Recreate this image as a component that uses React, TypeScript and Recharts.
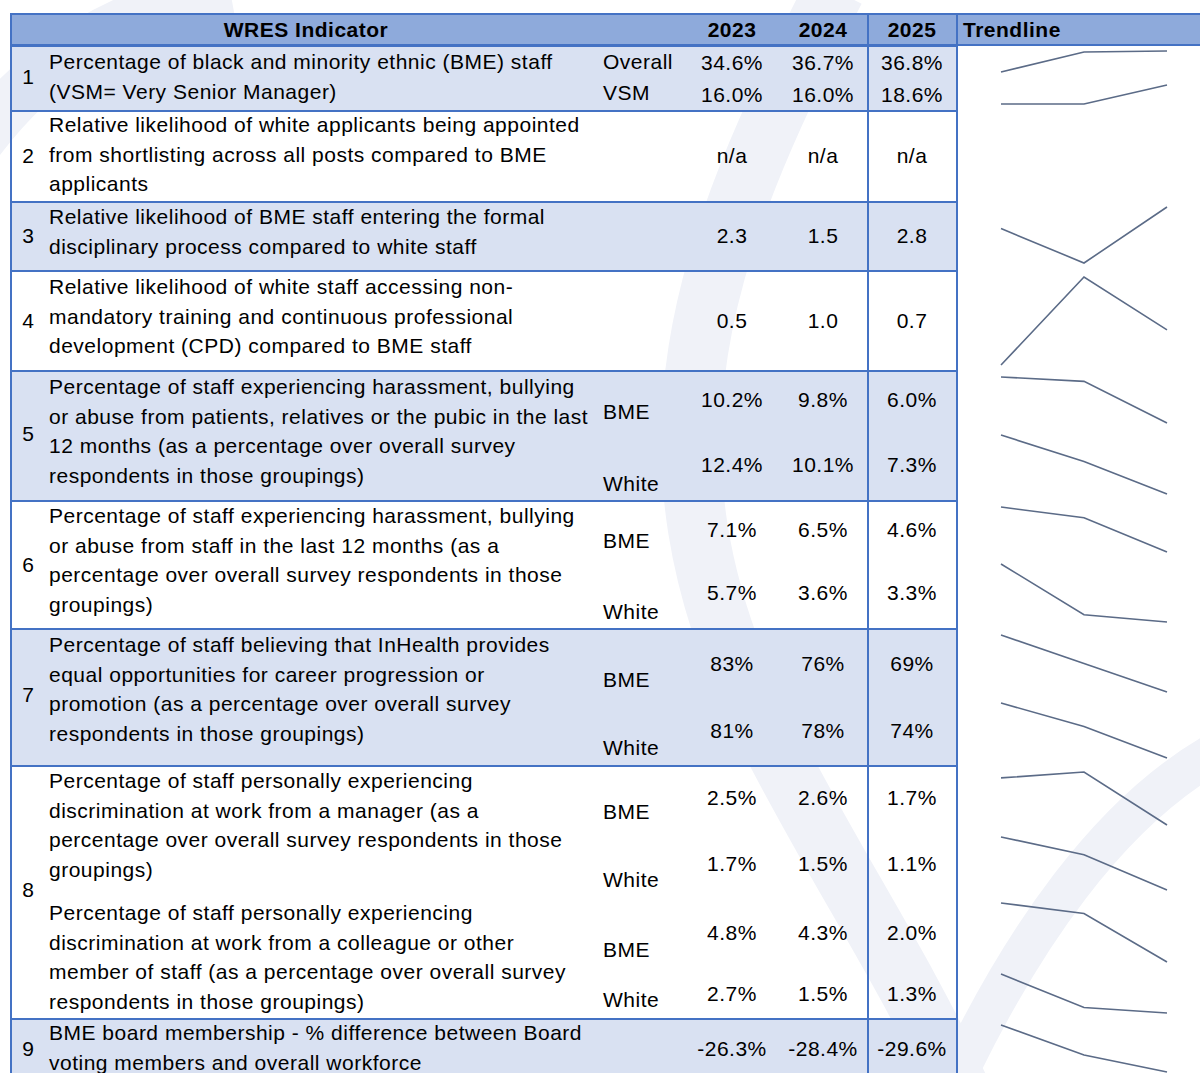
import React from 'react';
import { LineChart, Line, XAxis, YAxis } from 'recharts';

// ---- data ----
const years = ['2023', '2024', '2025'];

const r1Overall = [34.6, 36.7, 36.8];
const r1Vsm = [16.0, 16.0, 18.6];
const r2Values = ['n/a', 'n/a', 'n/a'];
const r3Values = [2.3, 1.5, 2.8];
const r4Values = [0.5, 1.0, 0.7];
const r5Bme = [10.2, 9.8, 6.0];
const r5White = [12.4, 10.1, 7.3];
const r6Bme = [7.1, 6.5, 4.6];
const r6White = [5.7, 3.6, 3.3];
const r7Bme = [83, 76, 69];
const r7White = [81, 78, 74];
const r8MgrBme = [2.5, 2.6, 1.7];
const r8MgrWhite = [1.7, 1.5, 1.1];
const r8ColBme = [4.8, 4.3, 2.0];
const r8ColWhite = [2.7, 1.5, 1.3];
const r9Values = [-26.3, -28.4, -29.6];

const desc1 = ['Percentage of black and minority ethnic (BME) staff', '(VSM= Very Senior Manager)'];
const desc2 = ['Relative likelihood of white applicants being appointed', 'from shortlisting across all posts compared to BME', 'applicants'];
const desc3 = ['Relative likelihood of BME staff entering the formal', 'disciplinary process compared to white staff'];
const desc4 = ['Relative likelihood of white staff accessing non-', 'mandatory training and continuous professional', 'development (CPD) compared to BME staff'];
const desc5 = ['Percentage of staff experiencing harassment, bullying', 'or abuse from patients, relatives or the pubic in the last', '12 months (as a percentage over overall survey', 'respondents in those groupings)'];
const desc6 = ['Percentage of staff experiencing harassment, bullying', 'or abuse from staff in the last 12 months (as a', 'percentage over overall survey respondents in those', 'groupings)'];
const desc7 = ['Percentage of staff believing that InHealth provides', 'equal opportunities for career progression or', 'promotion (as a percentage over overall survey', 'respondents in those groupings)'];
const desc8a = ['Percentage of staff personally experiencing', 'discrimination at work from a manager (as a', 'percentage over overall survey respondents in those', 'groupings)'];
const desc8b = ['Percentage of staff personally experiencing', 'discrimination at work from a colleague or other', 'member of staff (as a percentage over overall survey', 'respondents in those groupings)'];
const desc9 = ['BME board membership - % difference between Board', 'voting members and overall workforce'];

const pct1 = (v: number) => v.toFixed(1) + '%';
const pct0 = (v: number) => v.toFixed(0) + '%';
const num1 = (v: number) => v.toFixed(1);

// ---- layout ----
const BORDER = '#4472c4';
const BAND = '#d9e1f2';
const HEAD = '#8eaadb';
const SPARK = '#5b6b87';
const WATERMARK = '#f0f2f8';
const FONT = '"Liberation Sans", Arial, sans-serif';
const valueX = [732, 823, 912];

const rows = [
  { n: '1', top: 45, bottom: 110, band: true, numY: 77, text: [{ lines: desc1, y: 62 }] },
  { n: '2', top: 110, bottom: 201, band: false, numY: 156, text: [{ lines: desc2, y: 125 }] },
  { n: '3', top: 201, bottom: 270, band: true, numY: 236, text: [{ lines: desc3, y: 217 }] },
  { n: '4', top: 270, bottom: 370, band: false, numY: 321, text: [{ lines: desc4, y: 287 }] },
  { n: '5', top: 370, bottom: 500, band: true, numY: 434, text: [{ lines: desc5, y: 387 }] },
  { n: '6', top: 500, bottom: 628, band: false, numY: 565, text: [{ lines: desc6, y: 516 }] },
  { n: '7', top: 628, bottom: 765, band: true, numY: 695, text: [{ lines: desc7, y: 645 }] },
  { n: '8', top: 765, bottom: 1018, band: false, numY: 890, text: [{ lines: desc8a, y: 781 }, { lines: desc8b, y: 913 }] },
  { n: '9', top: 1018, bottom: 1073, band: true, numY: 1049, text: [{ lines: desc9, y: 1033 }] },
];

type Series = {
  values: (number | string)[];
  fmt?: (v: number) => string;
  label?: string;
  labelY?: number;
  valueY: number;
  spark?: [number, number];
};

const series: Series[] = [
  { values: r1Overall, fmt: pct1, label: 'Overall', labelY: 62, valueY: 63, spark: [51, 72] },
  { values: r1Vsm, fmt: pct1, label: 'VSM', labelY: 93, valueY: 95, spark: [85, 104] },
  { values: r2Values, valueY: 156 },
  { values: r3Values, fmt: num1, valueY: 236, spark: [207, 263] },
  { values: r4Values, fmt: num1, valueY: 321, spark: [277, 365] },
  { values: r5Bme, fmt: pct1, label: 'BME', labelY: 412, valueY: 400, spark: [377, 423] },
  { values: r5White, fmt: pct1, label: 'White', labelY: 484, valueY: 465, spark: [435, 494] },
  { values: r6Bme, fmt: pct1, label: 'BME', labelY: 541, valueY: 530, spark: [507, 552] },
  { values: r6White, fmt: pct1, label: 'White', labelY: 612, valueY: 593, spark: [564, 622] },
  { values: r7Bme, fmt: pct0, label: 'BME', labelY: 680, valueY: 664, spark: [635, 692] },
  { values: r7White, fmt: pct0, label: 'White', labelY: 748, valueY: 731, spark: [703, 758] },
  { values: r8MgrBme, fmt: pct1, label: 'BME', labelY: 812, valueY: 798, spark: [772, 825] },
  { values: r8MgrWhite, fmt: pct1, label: 'White', labelY: 880, valueY: 864, spark: [837, 890] },
  { values: r8ColBme, fmt: pct1, label: 'BME', labelY: 950, valueY: 933, spark: [903, 962] },
  { values: r8ColWhite, fmt: pct1, label: 'White', labelY: 1000, valueY: 994, spark: [974, 1013] },
  { values: r9Values, fmt: pct1, valueY: 1049, spark: [1025, 1072] },
];

const txt = (left: number, y: number, s: string, extra: React.CSSProperties = {}) => (
  <div
    style={{
      position: 'absolute', left, top: y - 15, height: 30, lineHeight: '30px',
      fontSize: 21, letterSpacing: 0.5, whiteSpace: 'nowrap', color: '#000', ...extra,
    }}
  >
    {s}
  </div>
);

const centered = (cx: number, y: number, s: string, extra: React.CSSProperties = {}) =>
  txt(cx - 60, y, s, { width: 120, textAlign: 'center', ...extra });

const Sparkline: React.FC<{ values: number[]; top: number; bottom: number }> = ({ values, top, bottom }) => {
  const data = years.map((year, i) => ({ year, v: values[i] }));
  return (
    <div style={{ position: 'absolute', left: 999, top: top - 2 }}>
      <LineChart width={170} height={bottom - top + 4} data={data} margin={{ top: 2, right: 2, bottom: 2, left: 2 }}>
        <XAxis dataKey="year" hide />
        <YAxis hide domain={['dataMin', 'dataMax']} />
        <Line type="linear" dataKey="v" stroke={SPARK} strokeWidth={1.6} dot={false} isAnimationActive={false} />
      </LineChart>
    </div>
  );
};

export default function App() {
  return (
    <div style={{ position: 'relative', width: 1200, height: 1073, overflow: 'hidden', background: '#fff', fontFamily: FONT }}>
      <style>{'body{margin:0}'}</style>

      {/* faint watermark arcs */}
      <svg width={1200} height={1073} style={{ position: 'absolute', left: 0, top: 0 }}>
        <path d="M 835 -10 C 700 250 630 450 760 720 C 830 860 900 960 960 1090" fill="none" stroke={WATERMARK} strokeWidth={60} />
        <path d="M -20 140 C 40 60 120 10 230 -10" fill="none" stroke={WATERMARK} strokeWidth={50} />
        <path d="M 950 1090 C 1020 940 1110 810 1220 750" fill="none" stroke={WATERMARK} strokeWidth={40} />
      </svg>

      {/* header */}
      <div style={{ position: 'absolute', left: 11, top: 13, width: 1189, height: 32, background: HEAD, borderTop: `2px solid ${BORDER}`, boxSizing: 'border-box' }} />
      {txt(11, 30, 'WRES Indicator', { width: 590, textAlign: 'center', fontWeight: 700 })}
      {years.map((y, i) => centered(valueX[i], 30, y, { fontWeight: 700 }))}
      {txt(963, 30, 'Trendline', { fontWeight: 700 })}

      {/* rows */}
      {rows.map((r) => (
        <React.Fragment key={r.n}>
          <div
            style={{
              position: 'absolute', left: 11, top: r.top, width: 946, height: r.bottom - r.top,
              background: r.band ? BAND : 'transparent', borderTop: `2px solid ${BORDER}`, boxSizing: 'border-box',
            }}
          />
          {txt(20, r.numY, r.n, { width: 16, textAlign: 'center', letterSpacing: 0 })}
          {r.text.map((t) => t.lines.map((l, j) => <React.Fragment key={t.y + '-' + j}>{txt(49, t.y + j * 29.7, l)}</React.Fragment>))}
        </React.Fragment>
      ))}
      <div style={{ position: 'absolute', left: 11, top: 44, width: 1189, height: 2, background: BORDER }} />

      {/* vertical rules */}
      <div style={{ position: 'absolute', left: 10, top: 13, width: 2, height: 1060, background: BORDER }} />
      <div style={{ position: 'absolute', left: 867, top: 13, width: 2, height: 1060, background: BORDER }} />
      <div style={{ position: 'absolute', left: 956, top: 13, width: 2, height: 1060, background: BORDER }} />

      {/* values, group labels, sparklines */}
      {series.map((s, k) => (
        <React.Fragment key={k}>
          {s.label && txt(603, s.labelY as number, s.label)}
          {s.values.map((v, i) => (
            <React.Fragment key={i}>
              {centered(valueX[i], s.valueY, typeof v === 'number' && s.fmt ? s.fmt(v) : String(v))}
            </React.Fragment>
          ))}
          {s.spark && <Sparkline values={s.values as number[]} top={s.spark[0]} bottom={s.spark[1]} />}
        </React.Fragment>
      ))}
    </div>
  );
}
